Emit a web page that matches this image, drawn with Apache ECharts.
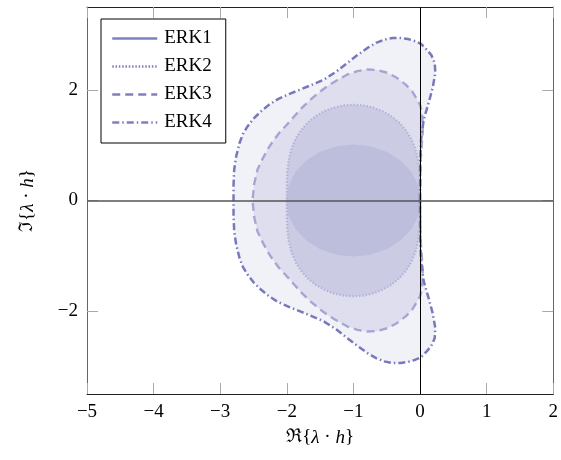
<!DOCTYPE html>
<html>
<head>
<meta charset="utf-8">
<script src="https://cdn.jsdelivr.net/npm/echarts@6/dist/echarts.min.js"></script>
<style>
  html, body { margin: 0; padding: 0; background: #fff; }
  #chart { width: 561px; height: 460px; }
</style>
</head>
<body>
<div id="chart"></div>
<script>
// boundary points (Re, Im) of each stability region
const erk1 = [[0,0],[-0.034,0.259],[-0.134,0.5],[-0.293,0.707],[-0.5,0.866],[-0.741,0.966],[-1,1],
  [-1.259,0.966],[-1.5,0.866],[-1.707,0.707],[-1.866,0.5],[-1.966,0.259],[-2,0],
  [-1.966,-0.259],[-1.866,-0.5],[-1.707,-0.707],[-1.5,-0.866],[-1.259,-0.966],[-1,-1],
  [-0.741,-0.966],[-0.5,-0.866],[-0.293,-0.707],[-0.134,-0.5],[-0.034,-0.259],[0,0]];

const erk2 = [[0,0],[0,0.259],[-0.007,0.504],[-0.029,0.728],[-0.069,0.931],[-0.131,1.112],[-0.214,1.272],
  [-0.315,1.41],[-0.432,1.524],[-0.562,1.614],[-0.702,1.68],[-0.849,1.719],[-1,1.732],[-1.151,1.719],
  [-1.298,1.68],[-1.438,1.614],[-1.568,1.524],[-1.685,1.41],[-1.786,1.272],[-1.869,1.112],[-1.931,0.931],
  [-1.972,0.728],[-1.993,0.504],[-2,0.259],[-2,0],
  [-2,-0.259],[-1.993,-0.504],[-1.972,-0.728],[-1.931,-0.931],[-1.869,-1.112],[-1.786,-1.272],[-1.685,-1.41],
  [-1.568,-1.524],[-1.438,-1.614],[-1.298,-1.68],[-1.151,-1.719],[-1,-1.732],[-0.849,-1.719],[-0.702,-1.68],
  [-0.562,-1.614],[-0.432,-1.524],[-0.315,-1.41],[-0.214,-1.272],[-0.131,-1.112],[-0.069,-0.931],
  [-0.029,-0.728],[-0.007,-0.504],[0,-0.259],[0,0]];

const erk3 = [[0,0],[0.008,0.7],[0.026,1.0],[0.04,1.25],[0.038,1.45],[0.018,1.65],[0,1.73],[-0.045,1.83],
  [-0.12,1.98],[-0.22,2.10],[-0.35,2.22],[-0.49,2.31],[-0.64,2.36],[-0.79,2.37],[-0.94,2.34],[-1.09,2.28],
  [-1.24,2.18],[-1.39,2.07],[-1.52,1.95],[-1.64,1.83],[-1.77,1.68],[-1.89,1.52],[-2.0,1.37],[-2.115,1.22],
  [-2.21,1.07],[-2.29,0.92],[-2.37,0.74],[-2.44,0.56],[-2.49,0.30],[-2.515,0],
  [-2.49,-0.30],[-2.44,-0.56],[-2.37,-0.74],[-2.29,-0.92],[-2.21,-1.07],[-2.115,-1.22],[-2.0,-1.37],
  [-1.89,-1.52],[-1.77,-1.68],[-1.64,-1.83],[-1.52,-1.95],[-1.39,-2.07],[-1.24,-2.18],[-1.09,-2.28],
  [-0.94,-2.34],[-0.79,-2.37],[-0.64,-2.36],[-0.49,-2.31],[-0.35,-2.22],[-0.22,-2.10],[-0.12,-1.98],
  [-0.045,-1.83],[0,-1.73],[0.018,-1.65],[0.038,-1.45],[0.04,-1.25],[0.026,-1.0],[0.008,-0.7],[0,0]];

const erk4 = [[0,0],[0.003,0.7],[0.015,1.10],[0.055,1.46],[0.13,1.77],[0.19,2.04],[0.23,2.31],[0.22,2.49],
  [0.17,2.63],[0.10,2.73],[0.02,2.83],[-0.07,2.88],[-0.18,2.92],[-0.29,2.94],[-0.41,2.94],[-0.54,2.91],
  [-0.66,2.85],[-0.79,2.76],[-0.94,2.63],[-1.09,2.49],[-1.26,2.33],[-1.44,2.19],[-1.61,2.10],[-1.79,2.01],
  [-1.96,1.93],[-2.14,1.83],[-2.27,1.73],[-2.39,1.61],[-2.50,1.48],[-2.59,1.34],[-2.66,1.20],[-2.71,1.04],
  [-2.76,0.80],[-2.79,0.56],[-2.80,0.28],[-2.80,0],
  [-2.80,-0.28],[-2.79,-0.56],[-2.76,-0.80],[-2.71,-1.04],[-2.66,-1.20],[-2.59,-1.34],[-2.50,-1.48],
  [-2.39,-1.61],[-2.27,-1.73],[-2.14,-1.83],[-1.96,-1.93],[-1.79,-2.01],[-1.61,-2.10],[-1.44,-2.19],
  [-1.26,-2.33],[-1.09,-2.49],[-0.94,-2.63],[-0.79,-2.76],[-0.66,-2.85],[-0.54,-2.91],[-0.41,-2.94],
  [-0.29,-2.94],[-0.18,-2.92],[-0.07,-2.88],[0.02,-2.83],[0.10,-2.73],[0.17,-2.63],[0.22,-2.49],
  [0.23,-2.31],[0.19,-2.04],[0.13,-1.77],[0.055,-1.46],[0.015,-1.10],[0.003,-0.7],[0,0]];

const names = ['ERK1', 'ERK2', 'ERK3', 'ERK4'];
const yTicks = [-2, 0, 2];

const font = 'Liberation Serif';
const legendColor = '#8080c0';
const minus = (v) => String(v).replace('-', '\u2212');

function fillSeries(points, color) {
    return {
        type: 'custom',
        silent: true,
        z: 1,
        data: [[0, 0]],
        renderItem: function (params, api) {
            return {
                type: 'polygon',
                shape: { points: points.map((p) => api.coord(p)) },
                style: { fill: color }
            };
        }
    };
}

function lineSeries(name, points, color, width, dash) {
    return {
        name: name,
        type: 'line',
        data: points,
        symbol: 'none',
        color: color,
        z: 3,
        lineStyle: { color: color, width: width, type: dash }
    };
}

let option = {
    animation: false,
    textStyle: { fontFamily: font },
    grid: { left: 87, right: 6, top: 7, bottom: 66 },
    legend: {
        orient: 'vertical',
        left: 101,
        top: 19,
        padding: [10, 14, 11, 10],
        itemWidth: 45,
        itemHeight: 20,
        itemGap: 9,
        borderColor: '#000',
        borderWidth: 1,
        borderRadius: 0,
        backgroundColor: '#fff',
        itemStyle: { opacity: 0 },
        textStyle: { fontFamily: font, fontSize: 19, color: '#000', padding: [0, 0, 0, 2] },
        data: names.map((n) => ({ name: n, itemStyle: { opacity: 0 }, lineStyle: { color: legendColor, width: 2.5 } }))
    },
    xAxis: [{
        type: 'value', min: -5, max: 2, interval: 1, position: 'bottom',
        name: 'ℜ{{i|λ} · {i|h}}',
        nameLocation: 'middle', nameGap: 34,
        nameTextStyle: {
            fontFamily: font, fontSize: 19, color: '#000',
            rich: { i: { fontFamily: font, fontSize: 19, fontStyle: 'italic', color: '#000' } }
        },
        axisLine: { onZero: false, lineStyle: { color: '#222', width: 1 } },
        axisTick: { inside: true, length: 11, lineStyle: { color: '#aaa' } },
        axisLabel: { fontFamily: font, fontSize: 19, color: '#000', margin: 9, formatter: minus },
        splitLine: { show: false }
    }, {
        type: 'value', min: -5, max: 2, interval: 1, position: 'top',
        axisLine: { onZero: false, lineStyle: { color: '#222', width: 1 } },
        axisTick: { inside: true, length: 11, lineStyle: { color: '#aaa' } },
        axisLabel: { show: false },
        splitLine: { show: false }
    }],
    yAxis: [{
        type: 'value', min: -3.5, max: 3.5, position: 'left',
        name: 'ℑ{{i|λ} · {i|h}}',
        nameLocation: 'middle', nameGap: 50,
        nameTextStyle: {
            fontFamily: font, fontSize: 19, color: '#000',
            rich: { i: { fontFamily: font, fontSize: 19, fontStyle: 'italic', color: '#000' } }
        },
        axisLine: { onZero: false, lineStyle: { color: '#666', width: 1 } },
        axisTick: { inside: true, length: 11, customValues: yTicks, lineStyle: { color: '#aaa' } },
        axisLabel: { fontFamily: font, fontSize: 19, color: '#000', margin: 9, customValues: yTicks, formatter: minus },
        splitLine: { show: false }
    }, {
        type: 'value', min: -3.5, max: 3.5, position: 'right',
        axisLine: { onZero: false, lineStyle: { color: '#666', width: 1 } },
        axisTick: { inside: true, length: 11, customValues: yTicks, lineStyle: { color: '#aaa' } },
        axisLabel: { show: false },
        splitLine: { show: false }
    }],
    series: []
};

option.series.push(fillSeries(erk4, '#f1f1f8'));
option.series.push(fillSeries(erk3, '#dedeee'));
option.series.push(fillSeries(erk2, '#cbcbe4'));
option.series.push(fillSeries(erk1, '#bdbddc'));

option.series.push(lineSeries('ERK1', erk1, '#bdbddc', 1.5, 'solid'));
option.series.push(lineSeries('ERK2', erk2, '#b3b3d8', 2.2, [1.5, 1.8]));
option.series.push(lineSeries('ERK3', erk3, '#a6a6d2', 2.4, [8, 5]));
option.series.push(lineSeries('ERK4', erk4, '#7878bc', 2.5, [7, 3, 1.5, 3]));

// the real and imaginary axes through the origin
option.series.push({
    type: 'line',
    data: [[0, 0]],
    symbol: 'none',
    z: 5,
    lineStyle: { width: 0 },
    markLine: {
        silent: true,
        symbol: ['none', 'none'],
        label: { show: false },
        data: [
            { xAxis: 0, lineStyle: { color: '#000', width: 1, type: 'solid' } },
            { yAxis: 0, lineStyle: { color: '#555', width: 1.5, type: 'solid' } }
        ]
    }
});

let myChart = echarts.init(document.getElementById('chart'));
myChart.setOption(option);
</script>
</body>
</html>
